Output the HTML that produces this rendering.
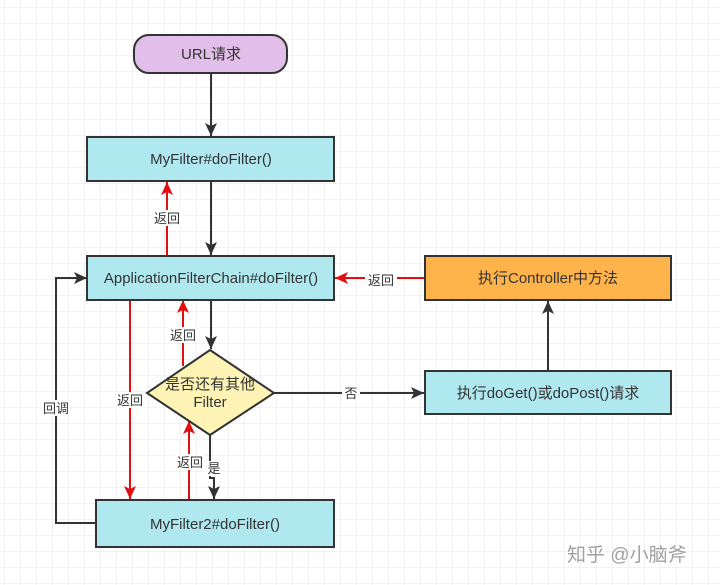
<!DOCTYPE html>
<html><head><meta charset="utf-8"><style>
html,body{margin:0;padding:0;background:#fff}
svg{display:block}
text{font-family:"Liberation Sans","Noto Sans CJK SC",sans-serif;fill:#333}
</style></head><body>
<svg width="720" height="585" xmlns="http://www.w3.org/2000/svg">
<defs>
<pattern id="g" width="16" height="16" patternUnits="userSpaceOnUse" x="4" y="7">
<path d="M0 0H16M0 0V16" stroke="#e6e6e6" stroke-width="1" fill="none"/>
</pattern>
<marker id="ab" markerWidth="14" markerHeight="14" refX="13" refY="6" orient="auto" markerUnits="userSpaceOnUse"><path d="M0 0L13 6L0 12L3 6Z" fill="#333"/></marker>
<marker id="ar" markerWidth="14" markerHeight="14" refX="13" refY="6" orient="auto" markerUnits="userSpaceOnUse"><path d="M0 0L13 6L0 12L3 6Z" fill="#e01010"/></marker>
</defs>
<rect width="720" height="585" fill="url(#g)"/>
<g stroke-width="2" fill="none">
<path d="M211 73V136" stroke="#333" marker-end="url(#ab)"/>
<path d="M211 181V255" stroke="#333" marker-end="url(#ab)"/>
<path d="M167 256V182" stroke="#e01010" marker-end="url(#ar)"/>
<path d="M211 300V349" stroke="#333" marker-end="url(#ab)"/>
<path d="M183 366V300" stroke="#e01010" marker-end="url(#ar)"/>
<path d="M130 300V499" stroke="#e01010" marker-end="url(#ar)"/>
<path d="M210 435V478H214V499" stroke="#333" marker-end="url(#ab)"/>
<path d="M189 500V421" stroke="#e01010" marker-end="url(#ar)"/>
<path d="M96 523H56V278H87" stroke="#333" marker-end="url(#ab)"/>
<path d="M274 393H424" stroke="#333" marker-end="url(#ab)"/>
<path d="M548 371V301" stroke="#333" marker-end="url(#ab)"/>
<path d="M425 278H335" stroke="#e01010" marker-end="url(#ar)"/>
</g>
<g stroke="#333" stroke-width="2">
<rect x="134" y="35" width="153" height="38" rx="15" fill="#e1bfe8"/>
<rect x="87" y="137" width="247" height="44" fill="#b0e8f0"/>
<rect x="87" y="256" width="247" height="44" fill="#b0e8f0"/>
<rect x="425" y="256" width="246" height="44" fill="#ffb34b"/>
<rect x="425" y="371" width="246" height="43" fill="#b0e8f0"/>
<rect x="96" y="500" width="238" height="47" fill="#b0e8f0"/>
<path d="M210 350L274 393L210 435L147 393Z" fill="#fdf3b4"/>
</g>
<g font-size="15" text-anchor="middle">
<text x="211" y="59">URL请求</text>
<text x="211" y="164">MyFilter#doFilter()</text>
<text x="211" y="283">ApplicationFilterChain#doFilter()</text>
<text x="548" y="283">执行Controller中方法</text>
<text x="548" y="398">执行doGet()或doPost()请求</text>
<text x="215" y="529">MyFilter2#doFilter()</text>
<text x="210" y="389">是否还有其他</text>
<text x="210" y="407">Filter</text>
</g>
<g font-size="13" text-anchor="middle">
<rect x="152" y="210" width="30" height="16" fill="#fff"/><text x="167" y="223">返回</text>
<rect x="168" y="327" width="30" height="16" fill="#fff"/><text x="183" y="340">返回</text>
<rect x="115" y="392" width="30" height="16" fill="#fff"/><text x="130" y="405">返回</text>
<rect x="174" y="454" width="30" height="16" fill="#fff"/><text x="190" y="467">返回</text>
<rect x="206" y="461" width="16" height="15" fill="#fff"/><text x="214" y="473">是</text>
<rect x="41" y="400" width="30" height="16" fill="#fff"/><text x="56" y="413">回调</text>
<rect x="342" y="385" width="18" height="16" fill="#fff"/><text x="351" y="398">否</text>
<rect x="365" y="272" width="32" height="16" fill="#fff"/><text x="381" y="285">返回</text>
</g>
<text x="567" y="561" font-size="19" style="fill:#a0a0a0">知乎 @小脑斧</text>
</svg>
</body></html>
